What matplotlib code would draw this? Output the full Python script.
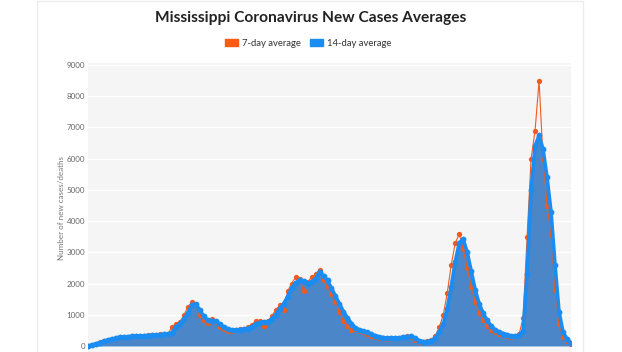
import matplotlib
matplotlib.use("Agg")
import matplotlib.pyplot as plt
import matplotlib.patches as mpatches
import pandas as pd

# 14-day and 7-day averages of new cases (one value every 6 days)
avg14 = [0, 30, 70, 110, 150, 190, 220, 250, 280, 290, 300, 305, 310, 320, 330, 335,
         340, 350, 360, 370, 380, 420, 600, 720, 850, 1050, 1300, 1340, 1150, 950, 830,
         810, 800, 700, 610, 550, 510, 510, 525, 540, 560, 610, 690, 750, 770, 780, 850,
         1000, 1200, 1350, 1580, 1850, 2030, 2100, 2090, 2000, 2050, 2150, 2380, 2250,
         2100, 1850, 1600, 1350, 1100, 900, 720, 580, 520, 480, 440, 380, 330, 290, 270,
         250, 250, 250, 260, 280, 300, 310, 250, 170, 140, 140, 170, 250, 450, 700, 1200,
         1900, 2700, 3300, 3420, 3000, 2400, 1800, 1350, 1050, 820, 640, 520, 450, 400,
         360, 320, 310, 340, 480, 2300, 5000, 6400, 6750, 6300, 5400, 4300, 2600, 1100,
         450, 220, 90]
avg7 = [0, 40, 80, 120, 160, 200, 230, 260, 285, 295, 300, 310, 315, 325, 330, 340,
        345, 355, 370, 380, 390, 600, 720, 780, 980, 1250, 1400, 1300, 1000, 820, 750,
        880, 760, 620, 560, 480, 490, 520, 530, 550, 600, 680, 800, 790, 650, 800, 950,
        1150, 1300, 1150, 1750, 2000, 2200, 2150, 1750, 2050, 2200, 2300, 2450, 2100,
        1900, 1650, 1400, 1100, 800, 650, 500, 560, 470, 450, 400, 330, 300, 270, 250,
        240, 260, 250, 270, 300, 310, 290, 190, 140, 130, 150, 200, 320, 600, 1000, 1700,
        2600, 3300, 3580, 3100, 2500, 1900, 1400, 1050, 830, 650, 520, 450, 400, 380,
        330, 300, 320, 380, 900, 3500, 6000, 6900, 8500, 6000, 4500, 3600, 1800, 700,
        300, 150, 70]
yticks = [0, 1000, 2000, 3000, 4000, 5000, 6000, 7000, 8000, 9000]

dates = pd.date_range("2020-03-11", periods=len(avg14), freq="6D")

plt.rcParams['font.family'] = ['Lato', 'DejaVu Sans']

W, H = 622, 352
fig = plt.figure(figsize=(W / 100, H / 100), dpi=100)
fig.patch.set_facecolor('white')

# faint card border
fig.patches.append(mpatches.Rectangle((37 / W, -0.1), (583 - 37) / W, 1.1 - 1.5 / H,
                                      transform=fig.transFigure, fill=False,
                                      edgecolor='#ececec', linewidth=1))

ax = fig.add_axes([88 / W, 0, (571 - 88) / W, (H - 63) / H])
ax.set_facecolor('#f5f5f5')
px = 281 / 9000
ax.set_ylim(-6 / px, 9000 + 2 / px)
ax.set_xlim(dates[0], dates[-1])

# only the 14-day average is filled, the 7-day spike stays a thin line
ax.fill_between(dates, avg14, color='#4a86c8', linewidth=0, zorder=2)
ax.plot(dates, avg7, color='#f05a1e', linewidth=0.8, marker='o', markersize=3.8,
        markeredgewidth=0, zorder=3)
ax.plot(dates, avg14, color='#1b8cf2', linewidth=2.6, marker='o', markersize=4.2,
        markeredgewidth=0, zorder=4)

ax.set_yticks(yticks)
ax.set_yticklabels([str(t) for t in yticks])
ax.tick_params(axis='y', length=0, pad=2, labelsize=5.8, labelcolor='#666666')
ax.set_xticks([])
ax.grid(axis='y', color='white', linewidth=1, zorder=1)
ax.set_axisbelow(True)
for s in ax.spines.values():
    s.set_visible(False)

fig.text(61 / W, 1 - 208 / H, 'Number of new cases/deaths', rotation=90,
         ha='center', va='center', fontsize=5.8, color='#777777')

fig.text(311 / W, 1 - 18 / H, 'Mississippi Coronavirus New Cases Averages',
         ha='center', va='center', fontsize=11.2, fontweight='bold', color='#222222')

handles = [mpatches.Patch(color='#fa5a14', label='7-day average'),
           mpatches.Patch(color='#1b8cf2', label='14-day average')]
fig.legend(handles=handles, loc='center', bbox_to_anchor=(308 / W, 1 - 43 / H), ncol=2,
           frameon=False, fontsize=6.8, handlelength=1.4, handleheight=0.8,
           handletextpad=0.4, columnspacing=1.0, labelcolor='#333333')

fig.savefig('out.png', dpi=100)
